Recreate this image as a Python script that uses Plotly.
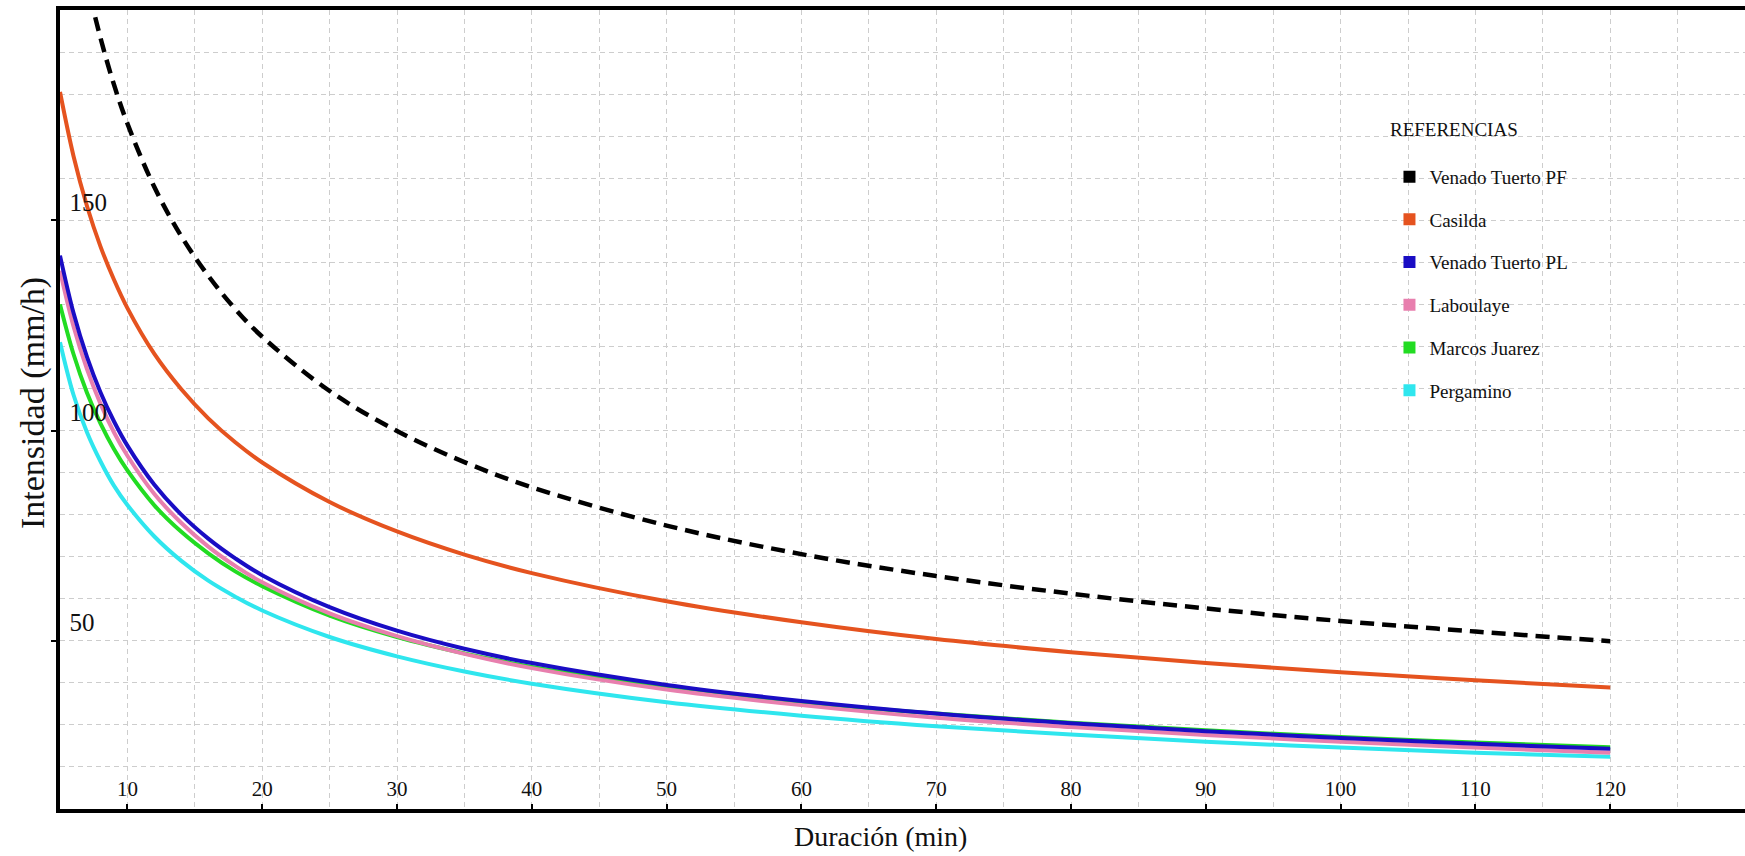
import plotly.graph_objects as go

# Duration (min) at which each curve was read
duracion = [5, 6, 7, 8, 9, 10, 12, 14, 16, 18, 20, 25, 30, 35, 40, 50, 60, 70, 80, 90, 100, 110, 120]

# Rainfall intensity (mm/h) per station
venado_tuerto_pf = [244.6, 223.3, 206.7, 193.4, 182.3, 173.0, 157.9, 146.2, 136.8, 128.9, 122.3, 109.4,
                    99.9, 92.5, 86.5, 77.4, 70.6, 65.4, 61.2, 57.7, 54.7, 52.2, 49.9]
casilda = [180.5, 165.3, 153.4, 143.8, 135.9, 129.1, 118.2, 109.8, 102.9, 97.2, 92.4, 83.0,
           76.0, 70.5, 66.1, 59.4, 54.4, 50.4, 47.3, 44.7, 42.5, 40.6, 38.9]
venado_tuerto_pl = [141.6, 128.0, 117.5, 109.1, 102.2, 96.4, 87.1, 80.0, 74.3, 69.6, 65.6, 58.0,
                    52.4, 48.1, 44.7, 39.5, 35.7, 32.7, 30.4, 28.5, 26.9, 25.5, 24.3]
laboulaye = [138.0, 124.8, 114.6, 106.4, 99.6, 94.0, 84.9, 78.0, 72.4, 67.8, 63.9, 56.5,
             51.1, 46.9, 43.5, 38.4, 34.7, 31.7, 29.5, 27.6, 26.0, 24.6, 23.4]
marcos_juarez = [130.0, 118.2, 109.0, 101.7, 95.6, 90.5, 82.2, 75.9, 70.8, 66.5, 63.0, 56.0,
                 50.9, 47.0, 43.8, 39.0, 35.4, 32.7, 30.5, 28.7, 27.1, 25.8, 24.7]
pergamino = [121.0, 108.5, 99.6, 92.7, 86.9, 82.3, 74.8, 69.0, 64.3, 60.5, 57.2, 50.9,
             46.3, 42.7, 39.8, 35.4, 32.2, 29.7, 27.7, 26.0, 24.6, 23.4, 22.4]

estaciones = ["Venado Tuerto PF", "Casilda", "Venado Tuerto PL", "Laboulaye", "Marcos Juarez", "Pergamino"]
series = [venado_tuerto_pf, casilda, venado_tuerto_pl, laboulaye, marcos_juarez, pergamino]
colores = ["#000000", "#e5531f", "#1a0dc4", "#e87fae", "#22dc22", "#2fe6ee"]
estilos = ["14px,8px", "solid", "solid", "solid", "solid", "solid"]

x_ticks = [10, 20, 30, 40, 50, 60, 70, 80, 90, 100, 110, 120]
y_ticks = [50, 100, 150]

FONT = "Liberation Serif"
GRID = "#cdcdcd"
GRID_DASH = "5px,4px"

fig = go.Figure()

# Curves drawn bottom-up so that the dashed line stays on top
orden = [5, 4, 3, 2, 1, 0]
for i in orden:
    fig.add_trace(go.Scatter(
        x=duracion, y=series[i], mode="lines", name=estaciones[i],
        line=dict(color=colores[i], width=4.5 if i == 0 else 4, dash=estilos[i], shape="spline", smoothing=1),
        showlegend=False, hoverinfo="x+y+name",
    ))

# Square legend keys
for i, nombre in enumerate(estaciones):
    fig.add_trace(go.Scatter(
        x=[None], y=[None], mode="markers", name=nombre, legendgroup=nombre,
        marker=dict(symbol="square", size=8, color=colores[i]),
    ))

fig.update_layout(
    width=1745, height=856,
    margin=dict(l=60, r=0, t=10, b=47),
    paper_bgcolor="white", plot_bgcolor="white",
    font=dict(family=FONT, color="#111111"),
    showlegend=True,
    legend=dict(
        x=0.789, y=0.815, xanchor="left", yanchor="top",
        bgcolor="rgba(0,0,0,0)", borderwidth=0,
        font=dict(family=FONT, size=19, color="#111111"),
        traceorder="grouped", tracegroupgap=15,
        itemsizing="constant",
    ),
    annotations=[
        dict(text="REFERENCIAS", xref="paper", yref="paper", x=0.788, y=1 - (129 - 10) / 799,
             xanchor="left", yanchor="middle", showarrow=False,
             font=dict(family=FONT, size=19, color="#111111")),
        dict(text="Duración (min)", xref="paper", yref="paper", x=0.487, y=-(836 - 809) / 799,
             xanchor="center", yanchor="middle", showarrow=False,
             font=dict(family=FONT, size=28, color="#111111")),
        dict(text="Intensidad (mm/h)", xref="paper", yref="paper", x=-(60 - 33) / 1685, y=1 - (403 - 10) / 799,
             xanchor="center", yanchor="middle", textangle=-90, showarrow=False,
             font=dict(family=FONT, size=34, color="#111111")),
    ],
)

fig.update_xaxes(
    range=[5, 130], tickmode="array", tickvals=x_ticks, ticktext=[str(v) for v in x_ticks],
    ticklabelposition="inside", ticks="inside", ticklen=5, tickwidth=2, tickcolor="black",
    ticklabelstandoff=5,
    tickfont=dict(family=FONT, size=21, color="#111111"),
    showline=True, linewidth=3.5, linecolor="black", mirror=True,
    showgrid=True, gridcolor=GRID, gridwidth=1.2, griddash=GRID_DASH,
    minor=dict(dtick=5, tick0=0, showgrid=True, gridcolor=GRID, gridwidth=1.2, griddash=GRID_DASH, ticks=""),
    zeroline=False,
)

fig.update_yaxes(
    range=[10, 200], tickmode="array", tickvals=y_ticks, ticktext=[str(v) for v in y_ticks],
    ticklabelposition="inside top", ticks="outside", ticklen=5, tickwidth=2, tickcolor="black",
    ticklabelstandoff=10,
    tickfont=dict(family=FONT, size=25, color="#111111"),
    showline=True, linewidth=3.5, linecolor="black", mirror=False,
    showgrid=True, gridcolor=GRID, gridwidth=1.2, griddash=GRID_DASH,
    minor=dict(dtick=10, tick0=0, showgrid=True, gridcolor=GRID, gridwidth=1.2, griddash=GRID_DASH, ticks=""),
    zeroline=False,
)

fig.write_html("out.html")
